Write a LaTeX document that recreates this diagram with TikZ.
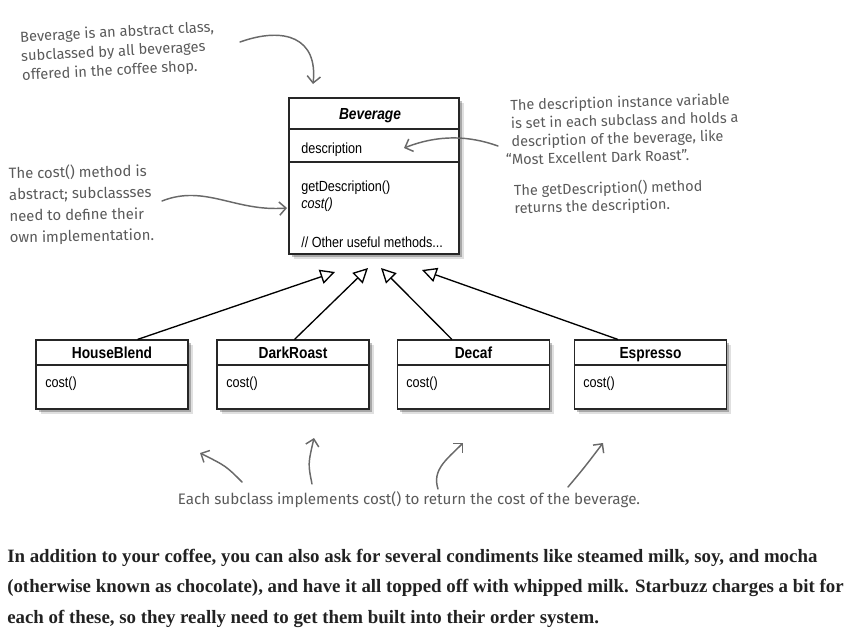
\documentclass[tikz,border=0pt]{standalone}
\usepackage{fontspec}
\setmainfont{Liberation Serif}
\newfontfamily\umlfont[FakeStretch=0.86]{Liberation Sans}
\newfontfamily\handfont{Fira Sans}
\usetikzlibrary{arrows.meta,shadows}
\definecolor{handgray}{RGB}{90,90,90}
\definecolor{arrowgray}{RGB}{105,105,105}
\definecolor{paraink}{RGB}{34,34,34}
\tikzset{
  umlbox/.style={draw=black!85, line width=0.8pt, fill=white, inner sep=0pt,
    drop shadow={shadow xshift=3.5pt, shadow yshift=-3.5pt, opacity=0.12, fill=black},
    drop shadow={shadow xshift=2.2pt, shadow yshift=-2.2pt, opacity=0.25, fill=black}},
  bevbox/.style={umlbox, minimum width=170*0.75pt, minimum height=156*0.75pt},
  subbox/.style={umlbox, minimum width=152*0.75pt, minimum height=69*0.75pt},
  sep/.style={draw=black!85, line width=0.8pt},
  umltitle/.style={font=\umlfont\bfseries\fontsize{12}{14}\selectfont, inner sep=0pt, anchor=base},
  umltext/.style={font=\umlfont\fontsize{11}{13}\selectfont, inner sep=0pt, anchor=base west},
  inherit/.style={draw=black, line width=1pt, -{Triangle[open, length=11pt, width=11pt, line width=1pt]}},
  note/.style={font=\handfont\fontsize{11}{14}\selectfont, text=handgray, align=left, inner sep=0pt},
  notearrow/.style={draw=arrowgray, line width=1.1pt, line cap=round, -{Straight Barb[length=5pt, width=10pt, line width=1.1pt]}},
  para/.style={font=\bfseries\fontsize{14.15}{16}\selectfont, text=paraink, inner sep=0pt, anchor=base west}
}
\begin{document}
\begin{tikzpicture}[x=0.75pt, y=-0.75pt]
\useasboundingbox (0,0) rectangle (851,639);

% Beverage class
\node[bevbox] (bev) at (374,176) {};
\draw[sep] (bev.west |- 0,129) -- (bev.east |- 0,129);
\draw[sep] (bev.west |- 0,162) -- (bev.east |- 0,162);
\node[umltitle, font=\umlfont\bfseries\itshape\fontsize{12}{14}\selectfont] (bevt) at (370,119) {Beverage};
\node[umltext] (bevd) at (301,153) {description};
\node[umltext] (bevg) at (301,191) {getDescription()};
\node[umltext, font=\umlfont\itshape\fontsize{11}{13}\selectfont] (bevc) at (301,208) {cost()};
\node[umltext] (bevo) at (301,247) {// Other useful methods...};

% Subclasses
\node[subbox] (hb) at (112,374.5) {};
\node[subbox] (dr) at (293,374.5) {};
\node[subbox] (dc) at (473.5,374.5) {};
\node[subbox] (es) at (650.5,374.5) {};
\foreach \b in {hb,dr,dc,es}{
  \draw[sep] (\b.west |- 0,365) -- (\b.east |- 0,365);
}
\node[umltitle] (hbt) at (112,358) {HouseBlend};
\node[umltitle] (drt) at (293,358) {DarkRoast};
\node[umltitle] (dct) at (473.5,358) {Decaf};
\node[umltitle] (est) at (650.5,358) {Espresso};
\node[umltext] (hbc) at (45,387) {cost()};
\node[umltext] (drc) at (226,387) {cost()};
\node[umltext] (dcc) at (406,387) {cost()};
\node[umltext] (esc) at (583,387) {cost()};

% Inheritance arrows
\coordinate (tip1) at (335,272);
\coordinate (tip2) at (368,268);
\coordinate (tip3) at (381,268);
\coordinate (tip4) at (422,270);
\draw[inherit] ([xshift=76.5pt]hb.north west) -- (tip1);
\draw[inherit] ([xshift=58.5pt]dr.north west) -- (tip2);
\draw[inherit] ([xshift=41.25pt]dc.north west) -- (tip3);
\draw[inherit] ([xshift=33pt]es.north west) -- (tip4);

% Annotations
\node[note, rotate=3, anchor=west, font=\handfont\fontsize{11}{14.3}\selectfont] (n1) at (21,57) {Beverage is an abstract class,\\subclassed by all beverages\\offered in the coffee shop.};
\coordinate (a1s) at (240,42);
\coordinate (a1e) at (313,84);
\draw[notearrow] (a1s) .. controls (285,26) and (318,38) .. (a1e);

\node[note, anchor=west, font=\handfont\fontsize{11.2}{16}\selectfont, rotate=1] (n2) at (9,206) {The cost() method is\\abstract; subclassses\\need to define their\\own implementation.};
\coordinate (a2s) at (162,201);
\coordinate (a2e) at (287,208);
\draw[notearrow] (a2s) .. controls (205,184) and (235,212) .. (a2e);

\node[note, anchor=west, rotate=1.5, font=\handfont\fontsize{10.9}{13.6}\selectfont] (n3) at (511,132) {The description instance variable\\is set in each subclass and holds a\\description of the beverage, like\\\llap{“}Most Excellent Dark Roast”.};
\node[note, anchor=west, rotate=1.5, font=\handfont\fontsize{10.9}{13.3}\selectfont] (n4) at (514,200) {The getDescription() method\\returns the description.};
\coordinate (a3s) at (498,146);
\coordinate (a3e) at (404,148);
\draw[notearrow] (a3s) .. controls (470,136) and (440,134) .. (a3e);

\node[note, font=\handfont\fontsize{11.4}{14}\selectfont] (n5) at (409,500) {Each subclass implements cost() to return the cost of the beverage.};
\coordinate (b1s) at (242,482); \coordinate (b1e) at (200,453);
\coordinate (b2s) at (312,484); \coordinate (b2e) at (314,438);
\coordinate (b3s) at (438,489); \coordinate (b3e) at (463,443);
\coordinate (b4s) at (568,487); \coordinate (b4e) at (603,443);
\draw[notearrow] (b1s) .. controls (226,466) .. (b1e);
\draw[notearrow] (b2s) .. controls (308,464) .. (b2e);
\draw[notearrow] (b3s) .. controls (432,470) and (446,460) .. (b3e);
\draw[notearrow] (b4s) .. controls (584,468) .. (b4e);

% Paragraph
\node[para] (p1) at (7,562) {In addition to your coffee, you can also ask for several condiments like steamed milk, soy, and mocha};
\node[para] (p2) at (7,592) {(otherwise known as chocolate), and have it all topped off with whipped milk. Starbuzz charges a bit for};
\node[para] (p3) at (7,623) {each of these, so they really need to get them built into their order system.};
\end{tikzpicture}
\end{document}
